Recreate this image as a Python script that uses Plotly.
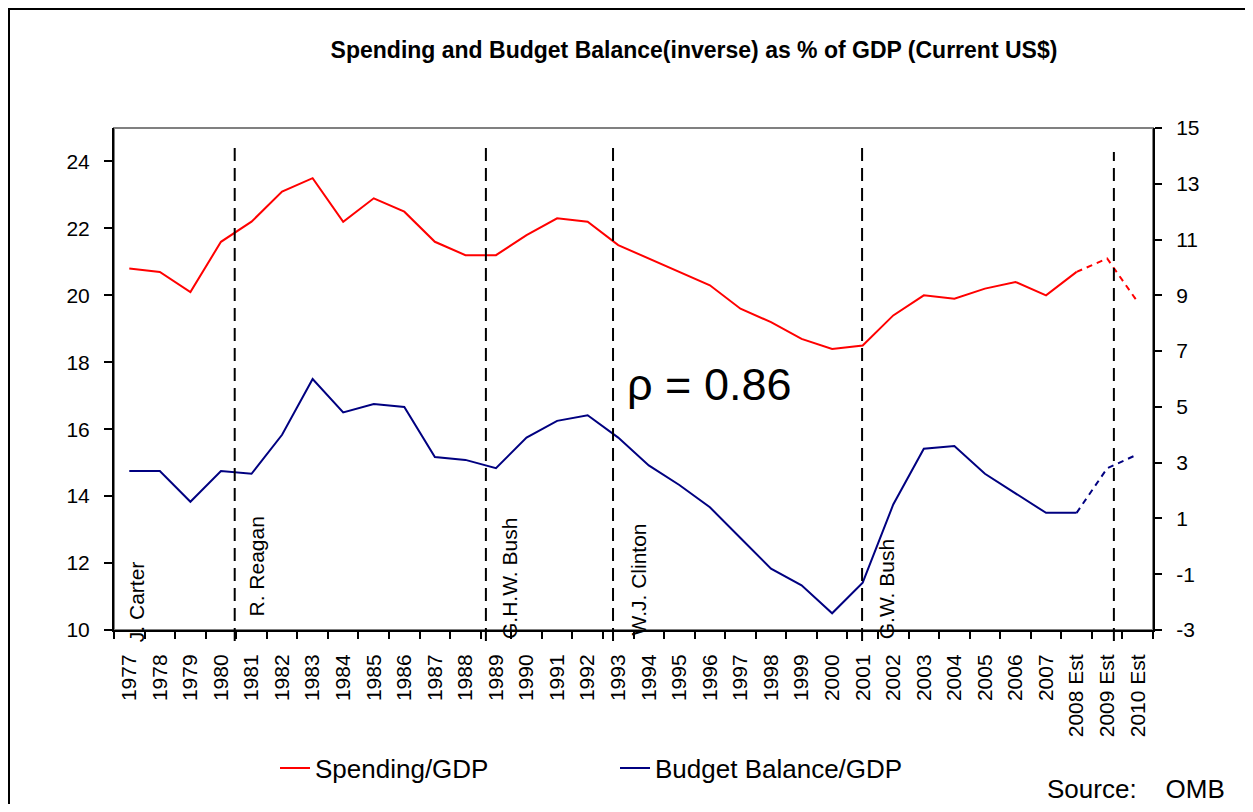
import plotly.graph_objects as go

# ---------------- data ----------------
years = ['1977', '1978', '1979', '1980', '1981', '1982', '1983', '1984', '1985', '1986',
         '1987', '1988', '1989', '1990', '1991', '1992', '1993', '1994', '1995', '1996',
         '1997', '1998', '1999', '2000', '2001', '2002', '2003', '2004', '2005', '2006',
         '2007', '2008 Est', '2009 Est', '2010 Est']

spending_gdp = [20.8, 20.7, 20.1, 21.6, 22.2, 23.1, 23.5, 22.2, 22.9, 22.5,
                21.6, 21.2, 21.2, 21.8, 22.3, 22.2, 21.5, 21.1, 20.7, 20.3,
                19.6, 19.2, 18.7, 18.4, 18.5, 19.4, 20.0, 19.9, 20.2, 20.4,
                20.0, 20.7, 21.1, 19.8]

budget_balance_inverse = [2.7, 2.7, 1.6, 2.7, 2.6, 4.0, 6.0, 4.8, 5.1, 5.0,
                          3.2, 3.1, 2.8, 3.9, 4.5, 4.7, 3.9, 2.9, 2.2, 1.4,
                          0.3, -0.8, -1.4, -2.4, -1.3, 1.5, 3.5, 3.6, 2.6, 1.9,
                          1.2, 1.2, 2.8, 3.3]

left_tick_vals = [10, 12, 14, 16, 18, 20, 22, 24]
left_tick_text = ['10', '12', '14', '16', '18', '20', '22', '24']
right_tick_vals = [-3, -1, 1, 3, 5, 7, 9, 11, 13, 15]
right_tick_text = ['-3', '-1', '1', '3', '5', '7', '9', '11', '13', '15']

presidents = ['J. Carter', 'R. Reagan', 'G.H.W. Bush', 'W.J. Clinton', 'G.W. Bush']

n_actual = 32  # through "2008 Est" solid; estimates dashed afterwards

FONT = 'Liberation Sans, Arial, sans-serif'
RED = '#FF0000'
NAVY = '#000080'

fig = go.Figure()

fig.add_trace(go.Scatter(x=years[:n_actual], y=spending_gdp[:n_actual], mode='lines',
                         name='Spending/GDP', line=dict(color=RED, width=2), yaxis='y'))
fig.add_trace(go.Scatter(x=years[n_actual - 1:], y=spending_gdp[n_actual - 1:], mode='lines',
                         name='Spending/GDP (est)', showlegend=False,
                         line=dict(color=RED, width=2, dash='6px,5px'), yaxis='y'))
fig.add_trace(go.Scatter(x=years[:n_actual], y=budget_balance_inverse[:n_actual], mode='lines',
                         name='Budget Balance/GDP', line=dict(color=NAVY, width=2), yaxis='y2'))
fig.add_trace(go.Scatter(x=years[n_actual - 1:], y=budget_balance_inverse[n_actual - 1:], mode='lines',
                         name='Budget Balance/GDP (est)', showlegend=False,
                         line=dict(color=NAVY, width=2, dash='6px,5px'), yaxis='y2'))

# geometry: screen positions (page has an 8px body margin)
OFF = 8
W, H = 1253 - OFF, 812 - 2 * OFF
L, R, T, B = 114 - OFF, 1153 - OFF, 128 - OFF, 630 - OFF
PW, PH = R - L, B - T


def px_x(sx):
    return (sx - OFF - L) / PW


def px_y(sy):
    return (B - (sy - OFF)) / PH


shapes = []
# outer chart border
shapes.append(dict(type='rect', xref='paper', yref='paper',
                   x0=px_x(9), x1=px_x(1250), y0=px_y(840), y1=px_y(9),
                   line=dict(color='black', width=2), layer='below'))
# plot-area border (gray)
shapes.append(dict(type='rect', xref='paper', yref='paper', x0=0, x1=1, y0=0, y1=1,
                   line=dict(color='#808080', width=2), layer='below'))
# presidential term dividers
for xc, top in [(3.45, 147), (11.67, 147), (15.83, 147), (23.98, 147), (32.22, 152)]:
    shapes.append(dict(type='line', xref='x', yref='paper', x0=xc, x1=xc,
                       y0=px_y(641), y1=px_y(top),
                       line=dict(color='black', width=2, dash='13px,7px')))

annotations = []
# president labels (rotated)
for name, xc, ybot in zip(presidents, [-0.2, 3.69, 12.0, 16.19, 24.33], [644, 619, 641, 638, 641]):
    annotations.append(dict(text=name, xref='x', yref='paper', x=xc, y=px_y(ybot),
                            xanchor='left', yanchor='bottom', textangle=-90, showarrow=False,
                            font=dict(family=FONT, size=21, color='black')))
# correlation
annotations.append(dict(text='ρ = 0.86', xref='paper', yref='paper', x=px_x(625), y=px_y(384),
                        xanchor='left', yanchor='middle', showarrow=False,
                        font=dict(family=FONT, size=45, color='black')))
# source
annotations.append(dict(text='Source:\u00a0\u00a0\u00a0\u00a0OMB', xref='paper', yref='paper',
                        x=px_x(1045), y=px_y(789), xanchor='left', yanchor='middle',
                        showarrow=False, font=dict(family=FONT, size=26, color='black')))

axis_font = dict(family=FONT, size=21, color='black')

fig.update_layout(
    width=W, height=H,
    margin=dict(l=L, r=W - R, t=T, b=H - B, pad=0),
    paper_bgcolor='white', plot_bgcolor='white',
    title=dict(text='<b>Spending and Budget Balance(inverse) as % of GDP (Current US$)</b>',
               x=(694 - OFF) / W, xref='container', xanchor='center',
               y=1 - (50 - OFF) / H, yref='container', yanchor='middle',
               font=dict(family=FONT, size=23, color='black')),
    xaxis=dict(type='category', categoryorder='array', categoryarray=years,
               range=[-0.5, len(years) - 0.5], tickangle=-90, tickson='boundaries',
               ticks='outside', ticklen=7, tickwidth=2, tickcolor='black',
               showline=True, linecolor='black', linewidth=2, showgrid=False,
               tickfont=axis_font, ticklabelstandoff=14),
    xaxis2=dict(overlaying='x', anchor='y', type='linear', range=[-0.5, len(years) - 0.5],
                tickvals=[i - 0.5 for i in range(len(years) + 1)], ticks='inside', ticklen=7,
                tickwidth=2, tickcolor='black', showticklabels=False, showline=False,
                showgrid=False, zeroline=False),
    yaxis=dict(range=[10, 25], tickvals=left_tick_vals, ticktext=left_tick_text,
               ticks='outside', ticklen=8, tickwidth=2, tickcolor='black',
               showline=True, linecolor='black', linewidth=2, showgrid=False, zeroline=False,
               tickfont=axis_font, ticklabelstandoff=10),
    yaxis2=dict(range=[-3, 15], tickvals=right_tick_vals, ticktext=right_tick_text,
                overlaying='y', side='right', anchor='x',
                ticks='outside', ticklen=7, tickwidth=2, tickcolor='black',
                showline=True, linecolor='black', linewidth=2, showgrid=False, zeroline=False,
                tickfont=axis_font, ticklabelstandoff=10),
    yaxis3=dict(range=[10, 25], tickvals=left_tick_vals, overlaying='y', side='left', anchor='x',
                ticks='inside', ticklen=7, tickwidth=2, tickcolor='black',
                showticklabels=False, showline=False, showgrid=False, zeroline=False),
    yaxis4=dict(range=[-3, 15], tickvals=right_tick_vals, overlaying='y', side='right', anchor='x',
                ticks='inside', ticklen=10, tickwidth=2, tickcolor='black',
                showticklabels=False, showline=False, showgrid=False, zeroline=False),
    legend=dict(orientation='h', x=px_x(275), xanchor='left', y=px_y(768), yanchor='middle',
                font=dict(family=FONT, size=26, color='black'), entrywidth=295,
                bgcolor='rgba(0,0,0,0)', tracegroupgap=0),
    shapes=shapes,
    annotations=annotations,
    showlegend=True,
)

fig.write_html('out.html')
